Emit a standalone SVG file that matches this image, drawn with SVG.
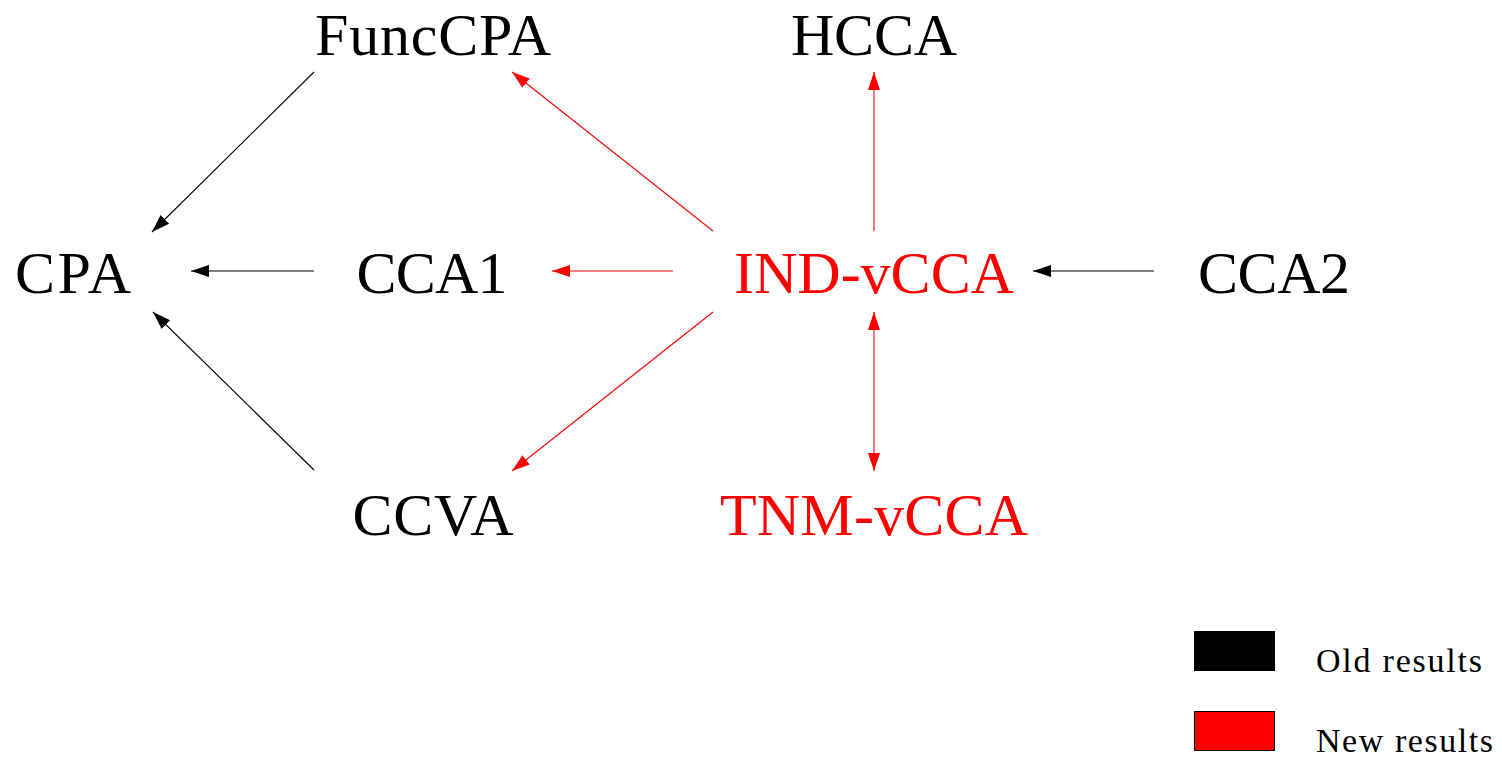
<svg xmlns="http://www.w3.org/2000/svg" width="1502" height="757" viewBox="0 0 1502 757">
  <style>
    .lbl { font-family: "Liberation Serif", "DejaVu Serif", serif; font-size: 60px; text-anchor: middle; }
    .old { fill: #000; }
    .new { fill: #f00; }
    .legend { font-family: "Liberation Serif", "DejaVu Serif", serif; font-size: 34px; }
    .e-old { stroke: #000; stroke-width: 1.1; fill: none; }
    .e-new { stroke: #f00; stroke-width: 1.1; fill: none; }
  </style>
  <defs>
    <marker id="ah-black" viewBox="0 0 18 12" refX="18" refY="6" markerWidth="18" markerHeight="12" markerUnits="userSpaceOnUse" orient="auto-start-reverse">
      <path d="M0,0 L18,6 L0,12 Z" fill="#000"/>
    </marker>
    <marker id="ah-red" viewBox="0 0 18 12" refX="18" refY="6" markerWidth="18" markerHeight="12" markerUnits="userSpaceOnUse" orient="auto-start-reverse">
      <path d="M0,0 L18,6 L0,12 Z" fill="#f00"/>
    </marker>
  </defs>

  <rect width="1502" height="757" fill="#fff"/>

  <!-- nodes -->
  <g id="funccpa"><text class="lbl old" x="433" y="55" textLength="236">FuncCPA</text></g>
  <g id="hcca"><text class="lbl old" x="874" y="55" textLength="166">HCCA</text></g>
  <g id="cpa"><text class="lbl old" x="73" y="293" textLength="116">CPA</text></g>
  <g id="cca1"><text class="lbl old" x="432" y="293" textLength="151">CCA1</text></g>
  <g id="ind-vcca"><text class="lbl new" x="874" y="293" textLength="280">IND-vCCA</text></g>
  <g id="cca2"><text class="lbl old" x="1274" y="293" textLength="152">CCA2</text></g>
  <g id="ccva"><text class="lbl old" x="433" y="535" textLength="161">CCVA</text></g>
  <g id="tnm-vcca"><text class="lbl new" x="874" y="535" textLength="308">TNM-vCCA</text></g>

  <!-- connectors -->
  <g id="edges">
    <line class="e-old" x1="314" y1="72" x2="152" y2="232" marker-end="url(#ah-black)"/>
    <line class="e-old" x1="314" y1="271" x2="191" y2="271" marker-end="url(#ah-black)"/>
    <line class="e-old" x1="314" y1="470" x2="153" y2="312" marker-end="url(#ah-black)"/>
    <line class="e-new" x1="713" y1="231" x2="512" y2="72" marker-end="url(#ah-red)"/>
    <line class="e-new" x1="673" y1="271" x2="552" y2="271" marker-end="url(#ah-red)"/>
    <line class="e-new" x1="713" y1="312" x2="512" y2="471" marker-end="url(#ah-red)"/>
    <line class="e-new" x1="874" y1="231" x2="874" y2="72" marker-end="url(#ah-red)"/>
    <line class="e-new" x1="874" y1="312" x2="874" y2="471" marker-start="url(#ah-red)" marker-end="url(#ah-red)"/>
    <line class="e-old" x1="1154" y1="271" x2="1033" y2="271" marker-end="url(#ah-black)"/>
  </g>

  <!-- legend -->
  <g id="legend">
    <rect x="1194" y="631" width="81" height="40" fill="#000"/>
    <text class="legend" x="1316" y="672" textLength="166">Old results</text>
    <rect x="1194.5" y="711.5" width="80" height="39" fill="#f00" stroke="#000" stroke-width="1"/>
    <text class="legend" x="1316" y="752" textLength="177">New results</text>
  </g>
</svg>
